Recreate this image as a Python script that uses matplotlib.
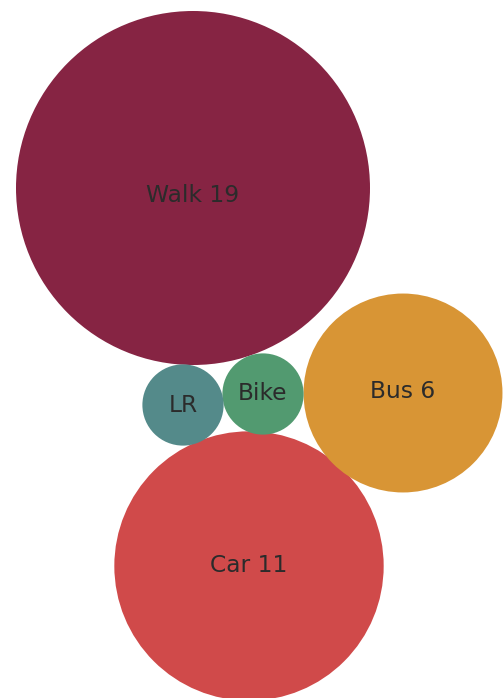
import matplotlib
matplotlib.use("Agg")
import matplotlib.pyplot as plt
import numpy as np

# data
modes = ["Walk", "Car", "Bus", "Bike", "LR"]
counts = [19, 11, 6, 1, 1]
labels = ["Walk 19", "Car 11", "Bus 6", "Bike", "LR"]
colors = ["#862443", "#d04a4a", "#d89535", "#529a70", "#548a8a"]

# packed layout (pixel space of the figure)
centers_x = [193, 249, 403, 263, 183]
centers_y = [188, 566, 393, 394, 405]
label_dy = [8, 0, -1, 0, 1]
scale = 177 / np.sqrt(19)

fig = plt.figure(figsize=(5.03, 6.98), dpi=100)
ax = fig.add_axes([0, 0, 1, 1])
ax.set_xlim(0, 503)
ax.set_ylim(698, 0)
ax.set_aspect("equal")
ax.axis("off")

for name, c, lab, col, x, y, dy in zip(modes, counts, labels, colors,
                                       centers_x, centers_y, label_dy):
    r = scale * np.sqrt(c)
    ax.add_patch(plt.Circle((x, y), r, color=col, lw=0))
    ax.text(x, y + dy, lab, ha="center", va="center", fontsize=16.8, color="#2b2b2b")

fig.savefig("out.png", dpi=100)
